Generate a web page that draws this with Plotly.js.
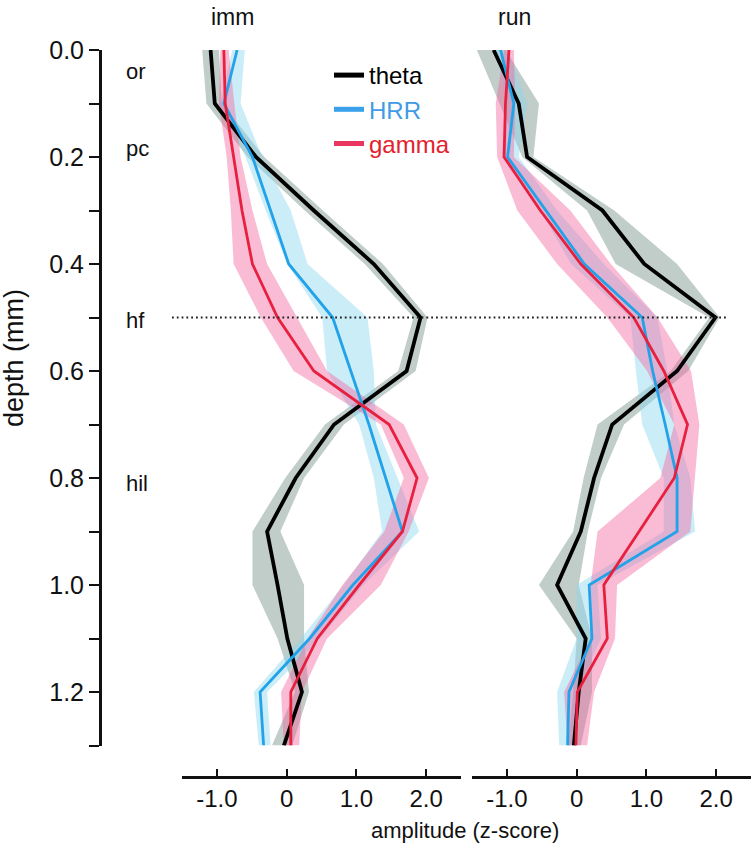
<!DOCTYPE html>
<html>
<head>
<meta charset="utf-8">
<script src="https://cdn.plot.ly/plotly-3.0.1.min.js"></script>
<style>html,body{margin:0;padding:0;background:#fff;}#chart{width:753px;height:853px;}</style>
</head>
<body>
<div id="chart"></div>
<script>
// depth samples (mm)
const depth = [0.0,0.1,0.2,0.3,0.4,0.5,0.6,0.7,0.8,0.9,1.0,1.1,1.2,1.3];

// imm panel (z-score)
const immTheta    = [-1.09,-1.03,-0.44,0.39,1.25,1.92,1.72,0.68,0.13,-0.28,-0.13,0.01,0.22,-0.04];
const immThetaLo  = [-1.21,-1.15,-0.56,0.26,1.12,1.82,1.60,0.55,-0.02,-0.49,-0.49,-0.13,0.12,-0.21];
const immThetaHi  = [-0.97,-0.93,-0.32,0.52,1.38,2.02,1.85,0.82,0.25,-0.09,0.25,0.25,0.32,0.08];
const immHRR      = [-0.71,-0.90,-0.49,-0.23,0.03,0.66,0.92,1.18,1.42,1.66,0.95,0.33,-0.38,-0.33];
const immHRRLo    = [-0.78,-0.95,-0.59,-0.30,0.01,0.51,0.58,1.04,1.25,1.37,0.82,0.20,-0.47,-0.40];
const immHRRHi    = [-0.60,-0.66,-0.35,0.06,0.30,1.16,1.25,1.28,1.59,1.90,1.10,0.48,-0.28,-0.23];
const immGamma    = [-0.90,-0.88,-0.76,-0.64,-0.49,-0.13,0.39,1.47,1.87,1.66,1.04,0.44,0.06,0.06];
const immGammaLo  = [-0.95,-0.97,-0.86,-0.80,-0.76,-0.37,0.10,1.35,1.68,1.40,0.80,0.30,-0.08,-0.04];
const immGammaHi  = [-0.83,-0.75,-0.66,-0.49,-0.28,0.15,0.58,1.68,2.04,1.75,1.35,0.58,0.22,0.18];

// run panel (z-score)
const runTheta    = [-1.19,-0.83,-0.71,0.37,0.97,1.99,1.44,0.51,0.25,0.06,-0.28,0.13,0.03,-0.04];
const runThetaLo  = [-1.43,-1.11,-0.78,0.15,0.56,1.90,1.35,0.30,0.10,-0.05,-0.54,0.00,-0.05,-0.12];
const runThetaHi  = [-1.02,-0.54,-0.62,0.54,1.44,2.05,1.60,0.68,0.35,0.16,0.03,0.22,0.22,0.06];
const runHRR      = [-1.09,-0.90,-0.99,-0.44,0.11,0.94,1.09,1.27,1.44,1.44,0.18,0.22,-0.11,-0.13];
const runHRRLo    = [-1.16,-1.00,-1.07,-0.52,-0.08,0.77,0.85,0.94,1.25,1.25,0.00,0.00,-0.28,-0.25];
const runHRRHi    = [-0.98,-0.71,-0.83,-0.28,0.39,1.16,1.30,1.40,1.63,1.70,0.30,0.35,0.00,-0.01];
const runGamma    = [-0.97,-1.02,-1.04,-0.52,0.06,0.82,1.25,1.59,1.40,0.89,0.39,0.44,0.01,-0.01];
const runGammaLo  = [-1.04,-1.16,-1.14,-0.85,-0.28,0.44,1.01,1.40,1.20,0.30,0.20,0.20,-0.18,-0.13];
const runGammaHi  = [-0.90,-0.88,-0.90,-0.09,0.49,1.16,1.64,1.76,1.70,1.63,0.58,0.55,0.25,0.15];

const seriesNames = ['theta','HRR','gamma'];
const panelNames = ['imm','run'];
const layerNames = ['or','pc','hf','hil'];
const layerDepths = [0.04,0.185,0.505,0.81];
const xTickVals = [-1,0,1,2];
const xTickText = ['-1.0','0','1.0','2.0'];

const lineColors = ['#000000','#22a2e8','#e8203f'];
const legendLineColors = ['#000000','#3aa0ea','#ea3560'];
const bandColors = ['rgba(105,135,125,0.42)','rgba(140,215,240,0.45)','rgba(242,95,155,0.42)'];
const lineWidths = [3.8,2.8,2.8];
const legendText = ['#000000','#3f9be6','#e3202c'];

const FONT = 'Arial, "Liberation Sans", Helvetica, sans-serif';

function band(lo, hi, color, xa) {
  const xs = lo.concat(hi.slice().reverse());
  const ys = depth.concat(depth.slice().reverse());
  return {x: xs, y: ys, xaxis: xa, yaxis: 'y', type: 'scatter', mode: 'lines',
          fill: 'toself', fillcolor: color, line: {width: 0, color: 'rgba(0,0,0,0)'},
          showlegend: false, hoverinfo: 'skip'};
}
function line(vals, i, xa) {
  return {x: vals, y: depth, xaxis: xa, yaxis: 'y', type: 'scatter', mode: 'lines',
          line: {color: lineColors[i], width: lineWidths[i]},
          name: seriesNames[i], showlegend: false};
}
function legendEntry(i) {
  return {x: [null], y: [null], xaxis: 'x', yaxis: 'y', type: 'scatter', mode: 'lines',
          line: {color: legendLineColors[i], width: 5},
          name: '<span style="color:' + legendText[i] + '">' + seriesNames[i] + '</span>',
          showlegend: true};
}

const panels = [
  {xa: 'x',  v: [immTheta, immHRR, immGamma], lo: [immThetaLo, immHRRLo, immGammaLo], hi: [immThetaHi, immHRRHi, immGammaHi]},
  {xa: 'x2', v: [runTheta, runHRR, runGamma], lo: [runThetaLo, runHRRLo, runGammaLo], hi: [runThetaHi, runHRRHi, runGammaHi]}
];

const traces = [];
panels.forEach(p => { [0,1,2].forEach(i => traces.push(band(p.lo[i], p.hi[i], bandColors[i], p.xa))); });
panels.forEach(p => { [0,1,2].forEach(i => traces.push(line(p.v[i], i, p.xa))); });
[0,1,2].forEach(i => traces.push(legendEntry(i)));

const W = 753, H = 853;
const px = v => v / W;
const py = v => 1 - v / H;

const xCommon = {
  range: [-1.5, 2.5], anchor: 'free', position: py(777),
  tickmode: 'array', tickvals: xTickVals, ticktext: xTickText,
  ticks: 'inside', ticklen: 7, tickwidth: 2, tickcolor: '#111',
  showline: true, linewidth: 2.5, linecolor: '#111',
  showgrid: false, zeroline: false, fixedrange: true,
  tickfont: {family: FONT, size: 24, color: '#111'}
};

const annotations = [
  {text: panelNames[0], x: px(232), y: py(17), xref: 'paper', yref: 'paper', xanchor: 'center', yanchor: 'middle', showarrow: false, font: {family: FONT, size: 23, color: '#111'}},
  {text: panelNames[1], x: px(514), y: py(17), xref: 'paper', yref: 'paper', xanchor: 'center', yanchor: 'middle', showarrow: false, font: {family: FONT, size: 23, color: '#111'}},
  {text: 'amplitude (z-score)', x: px(465), y: py(830), xref: 'paper', yref: 'paper', xanchor: 'center', yanchor: 'middle', showarrow: false, font: {family: FONT, size: 22, color: '#111'}},
  {text: 'depth (mm)', x: px(14), y: py(358), xref: 'paper', yref: 'paper', xanchor: 'center', yanchor: 'middle', showarrow: false, textangle: -90, font: {family: FONT, size: 27, color: '#111'}}
];
layerNames.forEach((n, i) => annotations.push({
  text: n, x: px(124), y: layerDepths[i], xref: 'paper', yref: 'y', xanchor: 'left', yanchor: 'middle', showarrow: false,
  font: {family: FONT, size: 22, color: '#111'}
}));

const layout = {
  width: W, height: H,
  margin: {l: 0, r: 0, t: 0, b: 0, pad: 0},
  paper_bgcolor: '#fff', plot_bgcolor: 'rgba(0,0,0,0)',
  showlegend: true, hovermode: false,
  font: {family: FONT, color: '#111'},
  legend: {x: px(329), y: py(53), xanchor: 'left', yanchor: 'top', bgcolor: 'rgba(0,0,0,0)',
           font: {family: FONT, size: 24}, itemwidth: 30, traceorder: 'normal'},
  xaxis: Object.assign({}, xCommon, {domain: [px(182), px(461)]}),
  xaxis2: Object.assign({}, xCommon, {domain: [px(472), px(751)]}),
  yaxis: {
    domain: [py(745.5), py(50)], range: [1.3, 0], anchor: 'free', position: px(100), side: 'left',
    tickmode: 'linear', tick0: 0, dtick: 0.2, tickformat: '.1f',
    ticks: 'outside', ticklen: 10, tickwidth: 2, tickcolor: '#111',
    minor: {tick0: 0, dtick: 0.1, ticks: 'outside', ticklen: 10, tickwidth: 2, tickcolor: '#111'},
    showline: true, linewidth: 2.5, linecolor: '#111',
    showgrid: false, zeroline: false, fixedrange: true,
    tickfont: {family: FONT, size: 25, color: '#111'}
  },
  shapes: [
    {type: 'line', xref: 'paper', yref: 'y', x0: px(172), x1: px(728), y0: 0.5, y1: 0.5,
     line: {color: '#222', width: 1.8, dash: '1.8px,3px'}}
  ],
  annotations: annotations
};

Plotly.newPlot('chart', traces, layout, {staticPlot: true, displayModeBar: false});
</script>
</body>
</html>
